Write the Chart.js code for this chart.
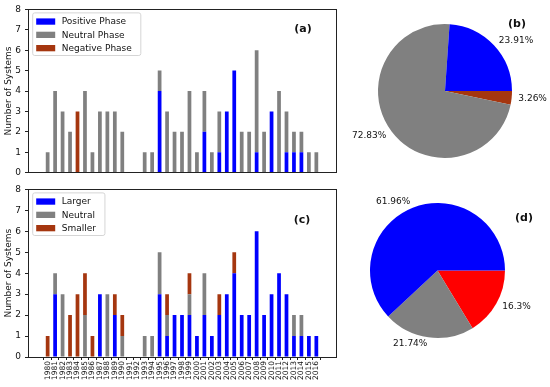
<!DOCTYPE html>
<html><head><meta charset="utf-8">
<script src="https://cdn.jsdelivr.net/npm/chart.js@4.4.1/dist/chart.umd.min.js"></script>
<style>
html,body{margin:0;padding:0;background:#fff;width:550px;height:387px;overflow:hidden}
.p{position:absolute}
</style></head><body>
<div class="p" style="left:0;top:0;width:345px;height:182px"><canvas id="ca"></canvas></div>
<div class="p" style="left:0;top:180px;width:345px;height:207px"><canvas id="cc"></canvas></div>
<div class="p" style="left:340px;top:0;width:210px;height:182px"><canvas id="cb"></canvas></div>
<div class="p" style="left:350px;top:180px;width:200px;height:207px"><canvas id="cd"></canvas></div>
<script>
const years = ['1980','1981','1982','1983','1984','1985','1986','1987','1988','1989','1990','1991','1992','1993','1994','1995','1996','1997','1998','1999','2000','2001','2002','2003','2004','2005','2006','2007','2008','2009','2010','2011','2012','2013','2014','2015','2016'];
const yTicks = [0,1,2,3,4,5,6,7,8];

const phasePositive = [0,0,0,0,0,0,0,0,0,0,0,0,0,0,0,4,0,0,0,0,0,2,0,1,3,5,0,0,1,0,3,0,1,1,1,0,0];
const phaseNeutral  = [1,4,3,2,0,4,1,3,3,3,2,0,0,1,1,1,3,2,2,4,1,2,1,2,0,0,2,2,5,2,0,4,2,1,1,1,1];
const phaseNegative = [0,0,0,0,3,0,0,0,0,0,0,0,0,0,0,0,0,0,0,0,0,0,0,0,0,0,0,0,0,0,0,0,0,0,0,0,0];

const sizeLarger  = [0,3,0,0,0,0,0,3,0,2,0,0,0,0,0,3,1,2,2,2,1,2,1,2,3,4,2,2,6,2,3,4,3,1,1,1,1];
const sizeNeutral = [0,1,3,0,0,2,0,0,3,0,1,0,0,1,1,2,1,0,0,1,0,2,0,0,0,0,0,0,0,0,0,0,0,1,1,0,0];
const sizeSmaller = [1,0,0,2,3,2,1,0,0,1,1,0,0,0,0,0,1,0,0,1,0,0,0,1,0,1,0,0,0,0,0,0,0,0,0,0,0];

const phaseLabels = ['Positive Phase','Neutral Phase','Negative Phase'];
const sizeLabels = ['Larger','Neutral','Smaller'];

// pie (b): slices listed clockwise from 3 o'clock
const pieBLabels = ['Negative Phase','Neutral Phase','Positive Phase'];
const pieBValues = [3, 67, 22];
// pie (d)
const pieDLabels = ['Smaller','Neutral','Larger'];
const pieDValues = [15, 20, 57];

const BLUE = '#0000ff', GRAY = '#808080', BROWN = '#a5360f', RED = '#ff0000';
const TXT = '#111';
Chart.defaults.font.family = '"DejaVu Sans", sans-serif';
Chart.defaults.color = TXT;

const framePlugin = {
  id: 'frame',
  afterDatasetsDraw(chart) {
    const ca = chart.chartArea, ctx = chart.ctx;
    ctx.save();
    ctx.strokeStyle = '#222'; ctx.lineWidth = 1;
    ctx.strokeRect(Math.round(ca.left) + 0.5, Math.round(ca.top) + 0.5,
                   Math.round(ca.right - ca.left), Math.round(ca.bottom - ca.top));
    ctx.restore();
  }
};

const legendPlugin = {
  id: 'mlLegend',
  afterDraw(chart, args, o) {
    if (!o || !o.show) return;
    const ctx = chart.ctx, ca = chart.chartArea, ds = chart.data.datasets;
    ctx.save();
    ctx.font = '9px "DejaVu Sans"';
    const tw = Math.max(...ds.map(d => ctx.measureText(d.label).width));
    const x0 = ca.left + o.dx, y0 = ca.top + o.dy;
    const w = 29 + tw + 9, h = 8.5 + (ds.length - 1) * o.row + 7.5;
    const r = 2;
    ctx.beginPath();
    ctx.moveTo(x0 + r, y0); ctx.lineTo(x0 + w - r, y0); ctx.quadraticCurveTo(x0 + w, y0, x0 + w, y0 + r);
    ctx.lineTo(x0 + w, y0 + h - r); ctx.quadraticCurveTo(x0 + w, y0 + h, x0 + w - r, y0 + h);
    ctx.lineTo(x0 + r, y0 + h); ctx.quadraticCurveTo(x0, y0 + h, x0, y0 + h - r);
    ctx.lineTo(x0, y0 + r); ctx.quadraticCurveTo(x0, y0, x0 + r, y0);
    ctx.closePath();
    ctx.fillStyle = 'rgba(255,255,255,0.85)'; ctx.fill();
    ctx.strokeStyle = '#d5d5d5'; ctx.lineWidth = 1; ctx.stroke();
    ds.forEach((d, i) => {
      const cy = y0 + 8.5 + i * o.row;
      ctx.fillStyle = d.backgroundColor;
      ctx.fillRect(x0 + 3.5, cy - 3, 19, 6.3);
      ctx.fillStyle = TXT; ctx.textBaseline = 'middle'; ctx.textAlign = 'left';
      ctx.fillText(d.label, x0 + 29, cy + 0.5);
    });
    ctx.restore();
  }
};

const panelLabelPlugin = {
  id: 'panelLabel',
  afterDraw(chart, args, o) {
    if (!o || !o.text) return;
    const ctx = chart.ctx;
    ctx.save();
    ctx.font = 'bold 11px "DejaVu Sans"';
    ctx.fillStyle = TXT; ctx.textAlign = 'center'; ctx.textBaseline = 'middle';
    ctx.fillText(o.text, o.x, o.y);
    ctx.restore();
  }
};

const pieLabelPlugin = {
  id: 'pieLabels',
  afterDatasetsDraw(chart, args, o) {
    const ctx = chart.ctx, meta = chart.getDatasetMeta(0), data = chart.data.datasets[0].data;
    const total = data.reduce((a, b) => a + b, 0);
    ctx.save();
    ctx.font = '9px "DejaVu Sans"'; ctx.fillStyle = TXT; ctx.textBaseline = 'middle';
    meta.data.forEach((arc, i) => {
      const p = arc.getProps(['x', 'y', 'startAngle', 'endAngle', 'outerRadius'], true);
      const mid = (p.startAngle + p.endAngle) / 2;
      const px = p.x + Math.cos(mid) * p.outerRadius * 1.1;
      const py = p.y + Math.sin(mid) * p.outerRadius * 1.1;
      ctx.textAlign = Math.cos(mid) >= 0 ? 'left' : 'right';
      const pct = Math.round(data[i] / total * 10000) / 100;
      ctx.fillText(pct + '%', px, py);
    });
    ctx.restore();
  }
};

const xMin = -2.075, xMax = 38.075;

function barChart(id, labels, series, colors, showYears, pad, panel) {
  const datasets = series.map((s, k) => ({
    label: labels[k],
    data: s.map((v, i) => ({ x: i, y: v })),
    backgroundColor: colors[k],
    borderWidth: 0,
    barPercentage: 0.5,
    categoryPercentage: 1.0
  }));
  return new Chart(document.getElementById(id), {
    type: 'bar',
    data: { datasets },
    plugins: [framePlugin, legendPlugin, panelLabelPlugin],
    options: {
      responsive: true, maintainAspectRatio: false, animation: false,
      layout: { padding: pad },
      plugins: {
        legend: { display: false }, tooltip: { enabled: false },
        mlLegend: { show: true, dx: 4.7, dy: 3.5, row: 13.3 },
        panelLabel: panel
      },
      scales: {
        x: {
          type: 'linear', min: xMin, max: xMax, stacked: true,
          afterBuildTicks: s => { s.ticks = years.map((y, i) => ({ value: i })); },
          ticks: {
            display: showYears, autoSkip: false, maxRotation: 90, minRotation: 90,
            font: { size: 7.5 }, color: TXT, padding: 1,
            callback: v => years[v]
          },
          grid: { display: showYears, drawOnChartArea: false, tickLength: 3, color: '#222' },
          border: { display: true, color: '#222', width: 1 },
          afterFit: s => { s.height = showYears ? 30 : 0; }
        },
        y: {
          min: 0, max: 8, stacked: true,
          afterBuildTicks: s => { s.ticks = yTicks.map(v => ({ value: v })); },
          ticks: { font: { size: 9 }, color: TXT, padding: 4 },
          grid: { drawOnChartArea: false, tickLength: 3, color: '#222' },
          border: { color: '#222', width: 1 },
          title: { display: true, text: 'Number of Systems', font: { size: 9 }, color: TXT, padding: { top: 3, bottom: 0 } },
          afterFit: s => { s.width = 28; }
        }
      }
    }
  });
}

function pieChart(id, labels, values, colors, pad, panel) {
  return new Chart(document.getElementById(id), {
    type: 'pie',
    data: { labels, datasets: [{ data: values, backgroundColor: colors, borderWidth: 0, hoverOffset: 0 }] },
    plugins: [pieLabelPlugin, panelLabelPlugin],
    options: {
      responsive: true, maintainAspectRatio: false, animation: false,
      rotation: 90,
      layout: { padding: pad },
      plugins: { legend: { display: false }, tooltip: { enabled: false }, panelLabel: panel }
    }
  });
}

barChart('ca', phaseLabels, [phasePositive, phaseNeutral, phaseNegative], [BLUE, GRAY, BROWN], false,
  { left: 0, top: 7, right: 9, bottom: 8 }, { text: '(a)', x: 303, y: 29 });
barChart('cc', sizeLabels, [sizeLarger, sizeNeutral, sizeSmaller], [BLUE, GRAY, BROWN], true,
  { left: 0, top: 9, right: 9, bottom: 0 }, { text: '(c)', x: 302, y: 40 });
pieChart('cb', pieBLabels, pieBValues, [BROWN, GRAY, BLUE],
  { left: 38, top: 24, right: 38, bottom: 24 }, { text: '(b)', x: 177, y: 24 });
pieChart('cd', pieDLabels, pieDValues, [RED, GRAY, BLUE],
  { left: 20, top: 23, right: 45, bottom: 49 }, { text: '(d)', x: 174, y: 38 });
</script>
</body></html>
